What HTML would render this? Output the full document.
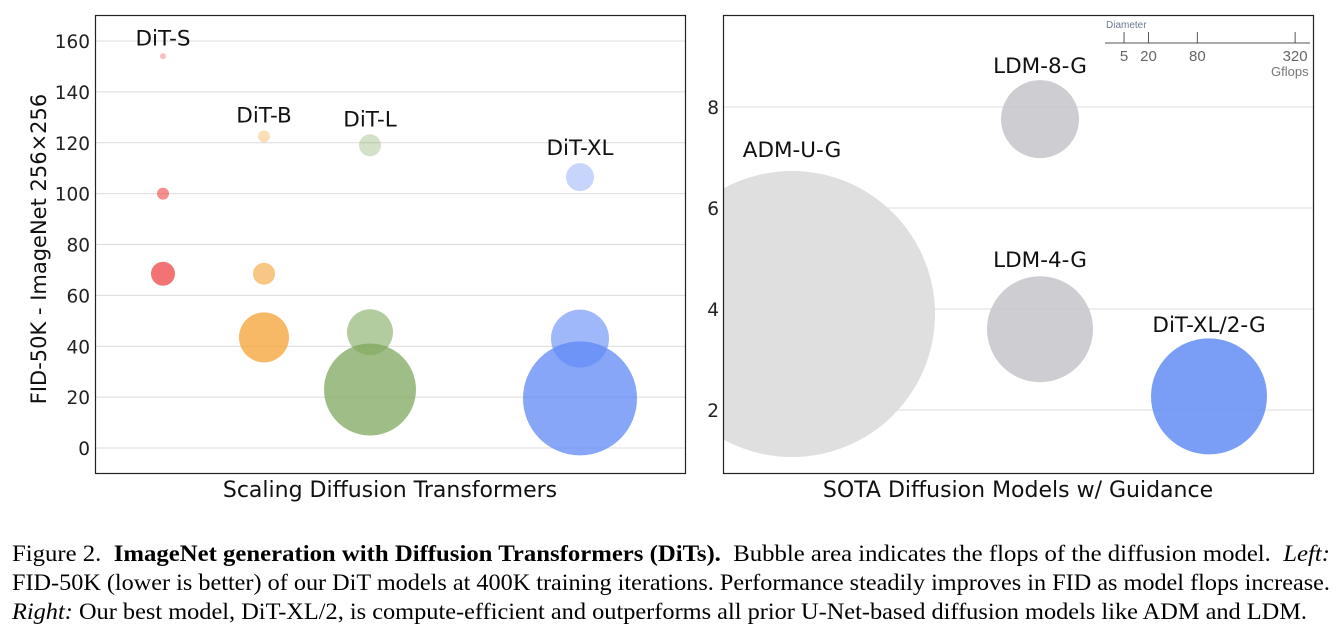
<!DOCTYPE html>
<html><head><meta charset="utf-8">
<style>
body{margin:0;width:1343px;height:642px;background:#fff;overflow:hidden;position:relative;font-family:"Liberation Sans",sans-serif}
svg text{font-family:"DejaVu Sans",sans-serif}
svg text.lg{font-family:"Liberation Sans",sans-serif}
.cap{position:absolute;left:12px;font-family:"Liberation Serif",serif;font-size:23px;color:#000;white-space:nowrap;transform-origin:0 0}
</style></head><body>
<svg width="1343" height="530" style="position:absolute;left:0;top:0">
<defs>
<clipPath id="cl"><rect x="95" y="15" width="590" height="458"/></clipPath>
<clipPath id="cr"><rect x="723" y="15" width="590" height="458"/></clipPath>
</defs>
<g id="left"></g>
<g id="right"></g>
</svg>
<div class="cap" data-w="1318" style="top:541px">Figure 2.&nbsp; <b>ImageNet generation with Diffusion Transformers (DiTs).</b>&nbsp; Bubble area indicates the flops of the diffusion model.&nbsp; <i>Left:</i></div>
<div class="cap" data-w="1318" style="top:570px">FID-50K (lower is better) of our DiT models at 400K training iterations. Performance steadily improves in FID as model flops increase.</div>
<div class="cap" data-w="1295" style="top:599px"><i>Right:</i> Our best model, DiT-XL/2, is compute-efficient and outperforms all prior U-Net-based diffusion models like ADM and LDM.</div>
<script>
const NS="http://www.w3.org/2000/svg";
// Left chart data
const leftTicks=[0,20,40,60,80,100,120,140,160];
const leftModels=["DiT-S","DiT-B","DiT-L","DiT-XL"];
const leftColors=["#ee4444","#f5a233","#7fa85f","#5f88f5"];
const leftFid=[[154,100,68.5],[122.5,68.5,43.5],[119,45.5,23],[106.5,43,19.5]];
const leftRadius=[[3,6,12],[6,11,25],[11,23,46],[14,29,57]];
const leftOpacity=[0.35,0.6,0.75];
// Right chart data
const rightTicks=[2,4,6,8];
const rightModels=["ADM-U-G","LDM-8-G","LDM-4-G","DiT-XL/2-G"];
const rightFid=[3.9,7.76,3.6,2.27];
const rightColumn=[0,1,1,2];
const rightRadius=[143,39,53,58];
const rightColors=["#dcdcdc","#c9c8cd","#c9c8cd","#6b93f5"];
const legendVals=[5,20,80,320];

const lx=i=>[163,264,370,580][i];
const ly=v=>448-(v/160)*407;
const rx=i=>[792,1040,1209][i];
const ry=v=>107+(8-v)*50.5;

function el(tag,attrs,parent,txt){const e=document.createElementNS(NS,tag);for(const k in attrs)e.setAttribute(k,attrs[k]);if(txt!==undefined)e.textContent=txt;parent.appendChild(e);return e;}
const gl=document.getElementById('left'), gr=document.getElementById('right');

leftTicks.forEach(t=>{
 const l=el('line',{x1:95,x2:685,y1:ly(t),y2:ly(t),stroke:'#dcdcdc','stroke-width':1},gl);
 
 
 const tx=el('text',{x:90,y:ly(t)+7,'text-anchor':'end','font-size':18.5,fill:'#222'},gl,String(t));
 
 
});
const lb=el('g',{'clip-path':'url(#cl)'},gl);
leftModels.forEach((m,i)=>{
 leftFid[i].forEach((f,j)=>{
  const c=el('circle',{cx:lx(i),cy:ly(f),r:leftRadius[i][j],fill:leftColors[i],'fill-opacity':leftOpacity[j]},lb);
  
  
 });
 const top=leftFid[i][0];
 const t=el('text',{x:lx(i),y:ly(top)-leftRadius[i][0]-8,'text-anchor':'middle','font-size':21.5,fill:'#111'},gl,m);
 
 
});
el('rect',{x:95.5,y:15.5,width:590,height:458,fill:'none',stroke:'#222','stroke-width':1.2},gl);
const yt=el('text',{x:0,y:0,transform:'translate(46,249) rotate(-90)','text-anchor':'middle','font-size':21,fill:'#111'},gl,'FID-50K - ImageNet 256×256');


const xt=el('text',{x:390,y:497,'text-anchor':'middle','font-size':22,fill:'#111'},gl,'Scaling Diffusion Transformers');



rightTicks.forEach(t=>{
 const l=el('line',{x1:723,x2:1313,y1:ry(t),y2:ry(t),stroke:'#dcdcdc','stroke-width':1},gr);
 
 
 const tx=el('text',{x:719,y:ry(t)+7,'text-anchor':'end','font-size':18.5,fill:'#222'},gr,String(t));
 
 
});
const rb=el('g',{'clip-path':'url(#cr)'},gr);
rightModels.forEach((m,i)=>{
 const c=el('circle',{cx:rx(rightColumn[i]),cy:ry(rightFid[i]),r:rightRadius[i],fill:rightColors[i],'fill-opacity':0.9},rb);
 
 
});
const rlabelY=[149,65,259,324];
rightModels.forEach((m,i)=>{
 const t=el('text',{x:rx(rightColumn[i]),y:rlabelY[i]+8,'text-anchor':'middle','font-size':21.5,fill:'#111'},gr,m);
 
 
});
el('line',{x1:1105,x2:1310,y1:43,y2:43,stroke:'#555','stroke-width':1},gr);
const legX=v=>1099.6+Math.sqrt(v)*10.93;
legendVals.forEach(v=>{
 el('line',{x1:legX(v),x2:legX(v),y1:32,y2:43,stroke:'#555','stroke-width':1},gr);
 const t=el('text',{x:legX(v),y:61,'text-anchor':'middle','font-size':15,fill:'#666',class:'lg'},gr,String(v));
 
 
});
el('text',{x:1106,y:28,'font-size':10,fill:'#6a7a90',class:'lg'},gr,'Diameter');
el('text',{x:1271,y:76,'font-size':13,fill:'#777',class:'lg'},gr,'Gflops');
el('rect',{x:723.5,y:15.5,width:590,height:458,fill:'none',stroke:'#222','stroke-width':1.2},gr);
const xt2=el('text',{x:1018,y:497,'text-anchor':'middle','font-size':22,fill:'#111'},gr,'SOTA Diffusion Models w/ Guidance');



document.querySelectorAll('.cap').forEach(d=>{
 const w=d.getBoundingClientRect().width;
 const target=+d.getAttribute('data-w');
 d.style.transform='scaleX('+(target/w)+')';
});
</script>
</body></html>
